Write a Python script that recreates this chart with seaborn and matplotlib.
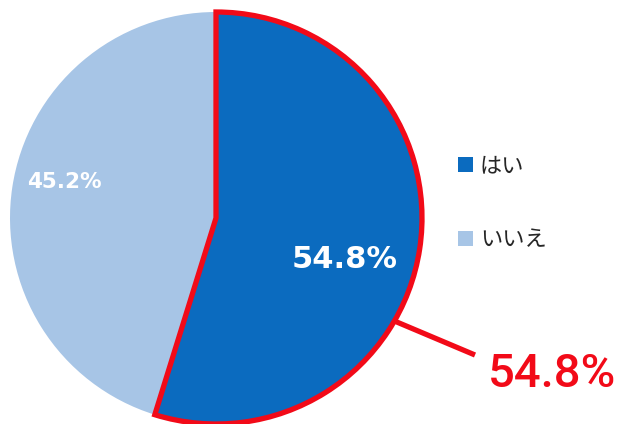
import matplotlib
matplotlib.use("Agg")
import matplotlib.pyplot as plt
from matplotlib.patches import Patch
import numpy as np
import seaborn as sns

categories = ["はい", "いいえ"]
values = [54.8, 45.2]
value_labels = ["54.8%", "45.2%"]
callout_label = "54.8%"

colors = ["#0B6BBF", "#A7C5E6"]
red = "#F20A18"

sns.set_theme(style="white")
plt.rcParams['font.family'] = ['Noto Sans CJK JP', 'DejaVu Sans']

fig = plt.figure(figsize=(6.2, 4.24), dpi=100)
ax = fig.add_axes([0, 0, 1, 1])

cx, cy, r = 216, 206, 206
wedges, _ = ax.pie(values, colors=colors, startangle=90, counterclock=False,
                   center=(cx, cy), radius=r, frame=True,
                   wedgeprops=dict(linewidth=0))
wedges[0].set_edgecolor(red)
wedges[0].set_linewidth(3.8)
wedges[0].set_zorder(5)
wedges[0].set_joinstyle('miter')

ax.set_xlim(0, 620)
ax.set_ylim(0, 424)
ax.set_aspect('equal')
ax.axis('off')

# value labels inside wedges
ax.text(345, 424 - 259, value_labels[0], color="white", fontsize=22,
        fontweight="bold", family=["DejaVu Sans"], ha="center", va="center", zorder=6)
ax.text(64, 424 - 182, value_labels[1], color="white", fontsize=15.5,
        fontweight="bold", family=["DejaVu Sans"], ha="center", va="center", zorder=6)

# callout
ang = np.deg2rad(-30)
p0 = (cx + r * np.cos(ang), cy + r * np.sin(ang))
ax.plot([p0[0], 475], [p0[1], 424 - 355], color=red, lw=3.8, zorder=6,
        solid_capstyle='butt')
ax.text(488, 424 - 374, callout_label, color=red, fontsize=34,
        fontweight="medium", family=["Roboto", "Liberation Sans"],
        ha="left", va="center")

handles = [Patch(facecolor=c, edgecolor='none') for c in colors]
leg = ax.legend(handles, categories, loc="upper left",
                bbox_to_anchor=(438 / 620, 1 - 134 / 424), frameon=False,
                fontsize=16, handlelength=0.68, handleheight=0.68,
                handletextpad=0.3, labelspacing=2.3)

fig.savefig("out.png", dpi=100)
